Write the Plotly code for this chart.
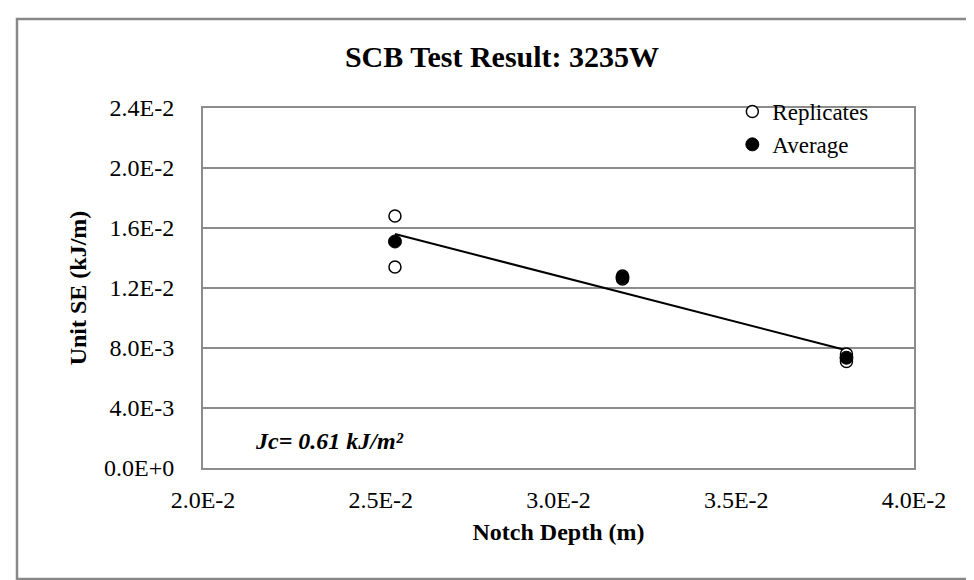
import numpy as np
import plotly.graph_objects as go

# Data
notch_depth_rep = [0.0254, 0.0254, 0.0318, 0.0318, 0.0381, 0.0381]
unit_se_rep = [0.0168, 0.0134, 0.0128, 0.0126, 0.0076, 0.0071]
notch_depth_avg = [0.0254, 0.0318, 0.0381]
unit_se_avg = [0.0151, 0.0127, 0.00735]

x_tickvals = [0.020, 0.025, 0.030, 0.035, 0.040]
x_ticktext = ["2.0E-2", "2.5E-2", "3.0E-2", "3.5E-2", "4.0E-2"]
y_tickvals = [0.0, 0.004, 0.008, 0.012, 0.016, 0.020, 0.024]
y_ticktext = ["0.0E+0", "4.0E-3", "8.0E-3", "1.2E-2", "1.6E-2", "2.0E-2", "2.4E-2"]

title_text = "SCB Test Result: 3235W"
x_title = "Notch Depth (m)"
y_title = "Unit SE (kJ/m)"
jc_text = "Jc= 0.61 kJ/m²"

# Linear trend line fitted to averages
coef = np.polyfit(notch_depth_avg, unit_se_avg, 1)
trend_x = np.array([min(notch_depth_avg), max(notch_depth_avg)])
trend_y = np.polyval(coef, trend_x)

FONT = "Liberation Serif, Times New Roman, serif"
GRID = "#8c8c8c"

fig = go.Figure()
fig.add_trace(go.Scatter(
    x=trend_x, y=trend_y, mode="lines",
    line=dict(color="black", width=2), showlegend=False, hoverinfo="skip"))
fig.add_trace(go.Scatter(
    x=notch_depth_rep, y=unit_se_rep, mode="markers", name="Replicates",
    marker=dict(symbol="circle", size=12, color="white",
                line=dict(color="black", width=1.5))))
fig.add_trace(go.Scatter(
    x=notch_depth_avg, y=unit_se_avg, mode="markers", name="Average",
    marker=dict(symbol="circle", size=13, color="black",
                line=dict(color="black", width=1))))

fig.update_layout(
    width=974, height=580,
    margin=dict(l=195, r=68, t=100, b=120),
    paper_bgcolor="white", plot_bgcolor="white",
    font=dict(family=FONT, size=24, color="black"),
    title=dict(text="<b>" + title_text + "</b>", x=494 / 974, xref="container",
               xanchor="center", y=1 - 48 / 580, yanchor="middle",
               font=dict(family=FONT, size=30, color="black")),
    showlegend=True,
    legend=dict(x=0.7445, y=1.05, xanchor="left", yanchor="top",
                bgcolor="rgba(0,0,0,0)", font=dict(family=FONT, size=23),
                itemwidth=30, tracegroupgap=0),
    xaxis=dict(range=[0.020, 0.040], tickvals=x_tickvals, ticktext=x_ticktext,
               showgrid=False, zeroline=False, showline=True, mirror=True,
               linecolor=GRID, linewidth=2, ticks="", ticklabelstandoff=9,
               tickfont=dict(family=FONT, size=24),
               title=dict(text="<b>" + x_title + "</b>", standoff=11,
                          font=dict(family=FONT, size=24))),
    yaxis=dict(range=[0.0, 0.024], tickvals=y_tickvals, ticktext=y_ticktext,
               showgrid=True, gridcolor=GRID, gridwidth=1.5, zeroline=False,
               showline=True, mirror=True, linecolor=GRID, linewidth=2,
               ticks="", ticklabelstandoff=22,
               tickfont=dict(family=FONT, size=24),
               title=dict(text="<b>" + y_title + "</b>", standoff=11,
                          font=dict(family=FONT, size=24))),
    annotations=[dict(text="<b><i>" + jc_text + "</i></b>", xref="paper", yref="paper",
                      x=0.07, y=0.075, xanchor="left", yanchor="middle",
                      showarrow=False, font=dict(family=FONT, size=24, color="black"))],
    shapes=[dict(type="rect", xref="paper", yref="paper",
                 x0=-0.2616, x1=1.083, y0=-0.308, y1=1.247,
                 line=dict(color="#888888", width=2.5), fillcolor="rgba(0,0,0,0)",
                 layer="below")],
)

fig.write_html("out.html")
